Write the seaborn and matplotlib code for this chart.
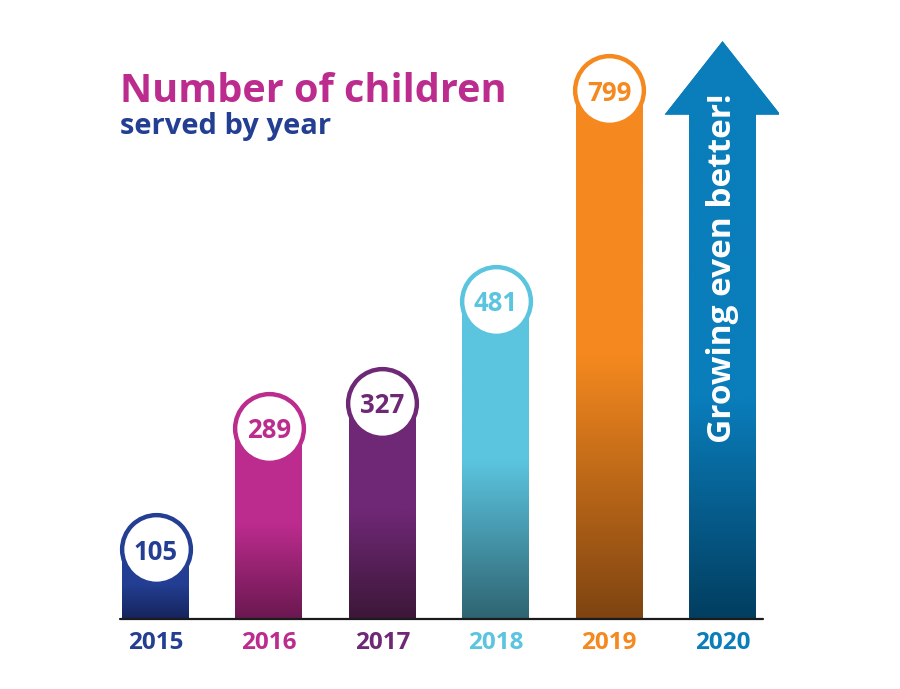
import numpy as np
import pandas as pd
import matplotlib
matplotlib.use("Agg")
import matplotlib.pyplot as plt
import matplotlib.colors as mcolors
from matplotlib.patches import Polygon
import seaborn as sns

# ---- data ----
years = ["2015", "2016", "2017", "2018", "2019", "2020"]
children = [105, 289, 327, 481, 799]          # 2020: no value (arrow)
top_colors = ["#233e92", "#bc2c8e", "#6f2876", "#5bc5df", "#f5891f", "#0a7dbb"]
bottom_colors = ["#16245c", "#6a1850", "#3c1738", "#2f6472", "#7e4411", "#023e60"]
title = "Number of children"
subtitle = "served by year"
arrow_text = "Growing even better!"

sns.set_theme(style="white")
FONT = ["Open Sans", "DejaVu Sans"]
plt.rcParams["font.family"] = FONT

fig = plt.figure(figsize=(9, 6.89), dpi=100)
fig.patch.set_facecolor("white")
ax = fig.add_axes([0.1098, 0.1016, 0.756, 0.855])
ax.set_facecolor("none")

df = pd.DataFrame({"year": years[:5], "children": children})
pal = dict(zip(years, top_colors))
BAR_W = 0.59
sns.barplot(data=df, x="year", y="children", hue="year", order=years,
            hue_order=years[:5], palette=pal, width=BAR_W, dodge=False,
            legend=False, saturation=1, ax=ax, zorder=2)

YMAX = 890
ax.set_xlim(-0.5, 5.5)
ax.set_ylim(0, YMAX)


def grad_image(top, bottom, H, frac_solid):
    n = 300
    y = np.linspace(0, H, n)
    g = H * frac_solid
    t = np.clip(y / g, 0, 1)
    c0 = np.array(mcolors.to_rgba(bottom))
    c1 = np.array(mcolors.to_rgba(top))
    arr = c0[None, :] * (1 - t[:, None]) + c1[None, :] * t[:, None]
    return arr[:, None, :]


# gradient fill for bars, clipped to seaborn's bar patches
for p in list(ax.patches):
    xc = p.get_x() + p.get_width() / 2
    i = int(round(xc))
    H = p.get_height()
    img = grad_image(top_colors[i], bottom_colors[i], H, 0.5)
    im = ax.imshow(img, extent=[p.get_x(), p.get_x() + p.get_width(), 0, H],
                   origin="lower", aspect="auto", zorder=3, interpolation="bilinear")
    im.set_clip_path(p)

# value circles
for i, v in enumerate(children):
    ax.scatter([i], [v], s=2450, facecolor="white", edgecolor=top_colors[i],
               linewidth=3.2, zorder=5)
    ax.text(i, v, str(v), ha="center", va="center_baseline", color=top_colors[i],
            fontsize=18.5, fontweight="bold", zorder=6)

# 2020 arrow
ai = 5
hw_shaft = BAR_W / 2
hw_head = 0.51
y_head = 762
y_tip = 873
verts = [(ai - hw_shaft, 0), (ai - hw_shaft, y_head), (ai - hw_head, y_head),
         (ai, y_tip), (ai + hw_head, y_head), (ai + hw_shaft, y_head),
         (ai + hw_shaft, 0)]
arrow = Polygon(verts, closed=True, facecolor=top_colors[ai], edgecolor="none",
                zorder=2)
ax.add_patch(arrow)
img = grad_image(top_colors[ai], bottom_colors[ai], y_tip, 0.38)
im = ax.imshow(img, extent=[ai - hw_head, ai + hw_head, 0, y_tip], origin="lower",
               aspect="auto", zorder=3, interpolation="bilinear")
im.set_clip_path(arrow)
ax.text(ai, 530, arrow_text, rotation=90, ha="center", va="center",
        color="white", fontsize=24, fontweight="bold", zorder=6)

ax.set_xlim(-0.5, 5.5)
ax.set_ylim(0, YMAX)

# baseline
ax.plot([-0.313, 5.357], [0, 0], color="#1b1b1b", lw=1.6, clip_on=False, zorder=7)

# axes cosmetics
for s in ax.spines.values():
    s.set_visible(False)
ax.set_yticks([])
ax.set_xlabel("")
ax.set_ylabel("")
ax.set_xticks(range(len(years)))
ax.set_xticklabels(years)
ax.tick_params(axis="x", length=0, pad=9)
for lab, c in zip(ax.get_xticklabels(), top_colors):
    lab.set_color(c)
    lab.set_fontsize(17.5)
    lab.set_fontweight("bold")

# titles
fig.text(120 / 900, 0.852, title, color="#bc2c8e", fontsize=28.5,
         fontweight="bold", ha="left", va="baseline")
fig.text(120 / 900, 0.8055, subtitle, color="#233e92", fontsize=21,
         fontweight="bold", ha="left", va="baseline")

fig.savefig("out.png", dpi=100)
